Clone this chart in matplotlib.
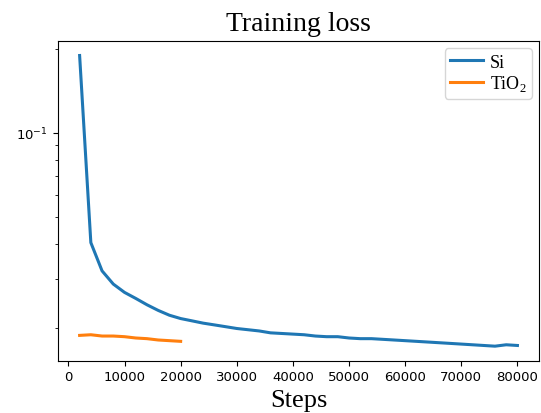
import matplotlib
matplotlib.use("Agg")
import matplotlib.pyplot as plt

# training loss
si_steps = list(range(2000, 80001, 2000))
si_loss = [0.189, 0.0404, 0.0320, 0.0287, 0.0268, 0.0255, 0.0242, 0.0231, 0.0222, 0.0216,
           0.0212, 0.0208, 0.0205, 0.0202, 0.0199, 0.0197, 0.0195, 0.0192, 0.0191, 0.0190,
           0.0189, 0.0187, 0.0186, 0.0186, 0.0184, 0.0183, 0.0183, 0.0182, 0.0181, 0.0180,
           0.0179, 0.0178, 0.0177, 0.0176, 0.0175, 0.0174, 0.0173, 0.0172, 0.0174, 0.0173]

tio2_steps = list(range(2000, 20001, 2000))
tio2_loss = [0.0188, 0.0189, 0.0187, 0.0187, 0.0186, 0.0184, 0.0183, 0.0181, 0.0180, 0.0179]

fig = plt.figure(figsize=(5.41, 4.14), dpi=100)
ax = fig.add_axes([0.1067, 0.1263, 0.8902, 0.7723])

ax.plot(si_steps, si_loss, color='#1f77b4', linewidth=2.2, label='Si')
ax.plot(tio2_steps, tio2_loss, color='#ff7f0e', linewidth=2.2, label='TiO$_\\mathregular{2}$')
ax.set_yscale('log')

ax.tick_params(labelsize=9.5)
ax.set_title('Training loss', family='Liberation Serif', fontsize=20, pad=8)
ax.set_xlabel('Steps', family='Liberation Serif', fontsize=19, labelpad=4)
ax.legend(prop={'family': 'Liberation Serif', 'size': 13}, loc='upper right',
          handlelength=1.8, handletextpad=0.4, labelspacing=0.15, borderpad=0.3,
          borderaxespad=0.4)

fig.savefig('out.png', dpi=100)
